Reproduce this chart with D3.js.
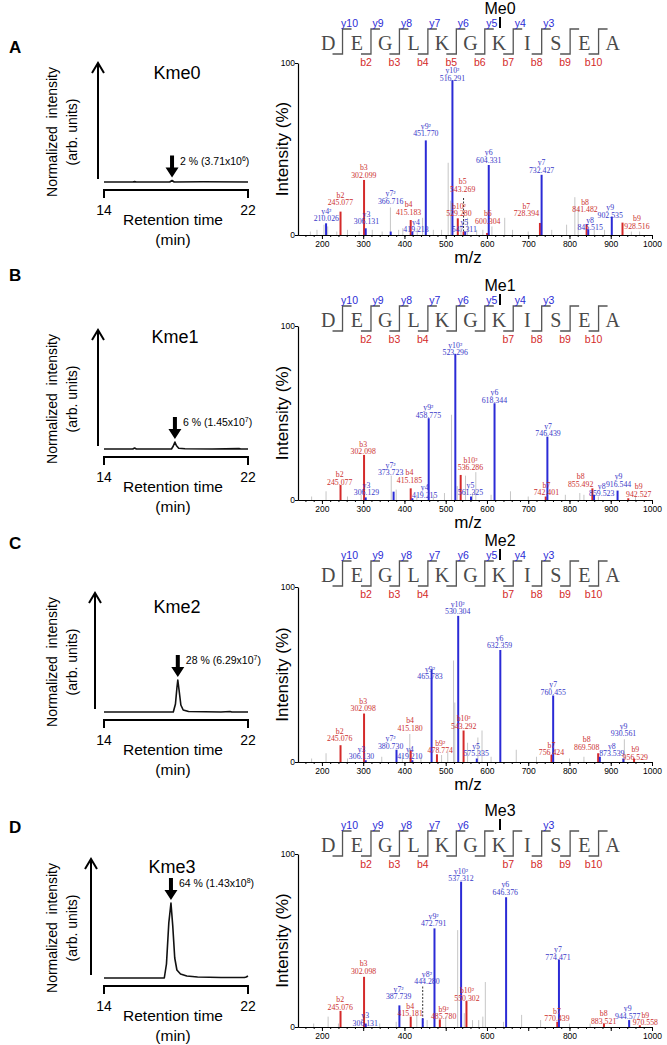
<!DOCTYPE html>
<html>
<head>
<meta charset="utf-8">
<script src="https://cdnjs.cloudflare.com/ajax/libs/d3/7.8.5/d3.min.js"></script>
<style>
  body { margin: 0; background: #fff; }
  svg { display: block; }
</style>
</head>
<body>
<div id="chart"></div>
<script>
// ---- data ----
var residues = ["D", "E", "G", "L", "K", "G", "K", "I", "S", "E", "A"];
var panelNames = ["A", "B", "C", "D"];
var kmeNames = ["Kme0", "Kme1", "Kme2", "Kme3"];
var meNames = ["Me0", "Me1", "Me2", "Me3"];
var pctNames = ["2 %", "6 %", "28 %", "64 %"];
var areaMant = ["3.71", "1.45", "6.29", "1.43"];
var areaExp = ["6", "7", "7", "8"];
var yIonsShown = [[10, 9, 8, 7, 6, 5, 4, 3], [10, 9, 8, 7, 6, 5, 4, 3], [10, 9, 8, 7, 6, 5, 4, 3], [10, 9, 8, 7, 6, 3]];
var bIonsShown = [[2, 3, 4, 5, 6, 7, 8, 9, 10], [2, 3, 4, 7, 8, 9, 10], [2, 3, 4, 7, 8, 9, 10], [2, 3, 4, 7, 8, 9, 10]];
var mzTicks = [200, 300, 400, 500, 600, 700, 800, 900, 1000];
var mzTicksD = [200, 400, 600, 800, 1000];
var rtTicks = [14, 22];

// retention time (min), normalized intensity
var chromA = [[14, 0], [15.6, 0], [15.7, 0.4], [15.8, 0], [17.65, 0], [17.78, 1.5], [17.9, 0], [19.5, 0.2], [22, 0]];
var chromB = [[14, 0], [15.6, 0], [15.7, 1], [15.8, 0], [17.75, 0], [17.85, 3], [17.94, 7], [18.02, 3.5], [18.15, 0.8], [18.5, 0.3], [20, 0], [21.5, 0.4], [21.6, 0], [22, 0]];
var chromC = [[14, 0], [17.85, 0], [17.97, 8], [18.05, 24], [18.1, 32], [18.17, 22], [18.27, 7], [18.4, 2], [18.7, 0.5], [20.5, 0], [21, 0.5], [21.1, 0], [22, 0]];
var chromD = [[14, 0], [17.35, 0], [17.47, 14], [17.6, 55], [17.72, 75], [17.82, 52], [17.93, 20], [18.05, 8], [18.25, 4], [18.6, 2], [19.2, 1], [20.5, 0.5], [21.8, 0.5], [21.9, 1], [22, 2]];

// ion, m/z, intensity (%)
var peaksA = [["y4²", 210.026, 6.8], ["b2", 245.077, 13.6], ["b3", 302.099, 32], ["y3", 306.131, 3.9], ["y7²", 366.716, 2], ["b4", 415.183, 8.7], ["y4", 419.213, 2], ["y9²", 451.770, 55], ["y10²", 516.291, 90], ["b10²", 529.280, 9.7], ["b5", 543.269, 2], ["y5", 547.311, 2], ["b6", 600.304, 1.2], ["y6", 604.331, 40.7], ["b7", 728.394, 7], ["y7", 732.427, 35], ["b8", 841.482, 6.4], ["y8", 845.515, 3.3], ["y9", 902.535, 10.7], ["b9", 928.516, 7.2]];
var peaksB = [["b2", 245.077, 8.6], ["b3", 302.098, 25.9], ["y3", 306.129, 1.5], ["y7²", 373.723, 4.8], ["b4", 415.185, 6.7], ["y4", 419.215, 1], ["y9²", 458.775, 47], ["y10²", 523.296, 84], ["b10²", 536.286, 14.4], ["y5", 561.325, 2], ["y6", 618.344, 55.6], ["b7", 742.401, 2], ["y7", 746.439, 36.4], ["b8", 855.492, 6.7], ["y8", 859.523, 3], ["y9", 916.544, 5.4], ["b9", 942.527, 1]];
var peaksC = [["b2", 245.076, 9.6], ["b3", 302.098, 27.7], ["y3", 306.130, 1], ["y7²", 380.730, 7], ["b4", 415.180, 6.7], ["y4", 419.210, 1], ["y9²", 465.783, 53], ["b9²", 478.774, 4.4], ["y10²", 530.304, 83.5], ["b10²", 543.292, 18], ["y5", 575.335, 2], ["y6", 632.359, 64], ["b7", 756.424, 4], ["y7", 760.455, 38], ["b8", 869.508, 5], ["y8", 873.539, 3], ["y9", 930.561, 2], ["b9", 956.529, 2]];
var peaksD = [["b2", 245.076, 9.3], ["b3", 302.098, 29], ["y3", 306.131, 2], ["y7²", 387.739, 12.5], ["b4", 415.181, 6], ["y8²", 444.28, 5], ["y9²", 472.791, 57], ["b9²", 485.780, 4.4], ["y10²", 537.312, 84], ["b10²", 550.302, 15], ["y6", 646.376, 75], ["b7", 770.439, 3], ["y7", 774.471, 39], ["b8", 883.521, 2], ["y9", 944.577, 4], ["b9", 970.558, 1]];

// unassigned peaks: m/z, intensity (%)
var noiseA = [[172, 2], [188, 3], [205, 6], [214, 5], [236, 2], [262, 3], [290, 2], [322, 3], [346, 2], [366, 16], [386, 3], [396, 4], [431, 4], [444, 10], [470, 3], [490, 3], [506, 42], [512, 20], [537, 6], [553, 10], [575, 3], [590, 3], [612, 5], [643, 10], [662, 3], [700, 2], [757, 3], [793, 6], [813, 22], [821, 16], [860, 3], [885, 3], [950, 2], [970, 2]];
var noiseB = [[175, 2], [210, 5], [262, 2], [295, 3], [368, 14], [380, 6], [430, 3], [470, 3], [497, 4], [514, 49], [528, 8], [548, 14], [565, 4], [573, 16], [610, 3], [657, 5], [700, 2], [790, 3], [825, 4], [835, 3], [870, 2], [960, 2]];
var noiseC = [[175, 2], [210, 5], [262, 2], [345, 3], [395, 4], [413, 16], [440, 3], [490, 4], [505, 6], [519, 58], [522, 34], [553, 11], [578, 14], [588, 18], [610, 3], [671, 7], [720, 3], [800, 2], [835, 3], [933, 13]];
var noiseD = [[180, 2], [215, 6], [240, 2], [340, 2], [380, 3], [430, 7], [455, 4], [500, 6], [529, 56], [545, 8], [565, 4], [580, 4], [590, 6], [596, 26], [640, 3], [684, 7], [730, 4], [800, 2], [850, 2]];

// dashed marker peaks: m/z, intensity (%)
var dashA = [[543.269, 22]];
var dashB = [];
var dashC = [];
var dashD = [[444.28, 24]];

// where each peak label sits: m/z, level (%) of the value line
var labA = {"y4²": [210.6, 9.7], "b2": [244.7, 19], "b3": [301.5, 34.9], "y3": [308, 8], "y7²": [366.5, 19.8], "b4": [410, 13.5], "y4": [428, 3.3], "y9²": [451.8, 59], "y10²": [516.3, 91.3], "b10²": [532, 12.6], "b5": [541, 26.7], "y5": [545, 3.3], "b6": [602, 8.3], "y6": [604.3, 43.6], "b7": [695.5, 12.6], "y7": [732.4, 37.8], "b8": [837.7, 15], "y8": [850, 4.3], "y9": [898.6, 11.6], "b9": [963.6, 5.2]};
var labB = {"b2": [243, 10.5], "b3": [300, 27.8], "y3": [308, 4.4], "y7²": [366.5, 15.9], "b4": [412, 11.5], "y4": [449, 2.9], "y9²": [458, 48.9], "y10²": [523, 84.7], "b10²": [560, 18.6], "y5": [560, 4.2], "y6": [618, 57.5], "b7": [744, 4.2], "y7": [748, 38.3], "b8": [827, 9.2], "y8": [878, 3.8], "y9": [919, 9.2], "b9": [967.7, 3.4]};
var labC = {"b2": [243, 13.4], "b3": [300, 30.6], "y3": [296, 3.3], "y7²": [366.5, 9.2], "b4": [413.6, 19.5], "y4": [413, 3.3], "b9²": [486.8, 6.7], "y9²": [462, 49], "y10²": [529, 86], "b10²": [543.6, 20.5], "y5": [573.7, 4.8], "y6": [630.5, 66.5], "b7": [756.4, 5.4], "y7": [760.5, 40], "b8": [841.8, 8.6], "y8": [902.7, 4.8], "y9": [931, 16.3], "b9": [959.5, 2.9]};
var labD = {"b2": [244.4, 11.6], "b3": [301, 32.4], "y3": [305, 2.3], "y7²": [385.9, 17.8], "b4": [414, 7.7], "y8²": [454.5, 26.4], "y9²": [470.7, 59.8], "b9²": [495, 6.2], "y10²": [537, 85.9], "b10²": [551.5, 16.8], "y6": [644.4, 78.2], "b7": [769.7, 4.8], "y7": [772, 40.5], "b8": [882.8, 3.5], "y9": [941, 6.4], "b9": [983.8, 2.5]};

var chroms = [chromA, chromB, chromC, chromD];
var peaks = [peaksA, peaksB, peaksC, peaksD];
var noise = [noiseA, noiseB, noiseC, noiseD];
var dashed = [dashA, dashB, dashC, dashD];
var labels = [labA, labB, labC, labD];

// ---- layout ----
var sans = "'Liberation Sans', Arial, sans-serif",
    serif = "'Liberation Serif', 'Times New Roman', serif";
var blue = "#2b2bd6", red = "#d42a2a", labBlue = "#3838c8", labRed = "#cc3030";

var specBase = [235, 500, 762, 1027],
    specTop = [63, 326, 587, 854],
    seqY = [43, 320, 575, 845],
    chromBase = [182, 449, 712, 978],
    letterY = [47, 275, 543, 827],
    upArrowX = [98, 98, 95, 91],
    kmeX = [177, 175, 177, 172],
    kmeY = [73, 337, 607, 867];

var svg = d3.select("#chart").append("svg")
  .attr("width", 667)
  .attr("height", 1045);

var x = d3.scaleLinear().domain([142, 1000]).range([298, 652]);
var rt = d3.scaleLinear().domain([14, 22]).range([104, 248]);
var seqX = d3.scalePoint().domain(d3.range(residues.length)).range([328.3, 612.8]);

function drawPanel(p) {
  var g = svg.append("g");

  // panel letter
  g.append("text")
    .attr("x", 9).attr("y", letterY[p] + 6)
    .attr("font-family", sans).attr("font-size", 17).attr("font-weight", "bold")
    .text(panelNames[p]);

  // ---------- chromatogram ----------
  var base = chromBase[p];
  var cy = d3.scaleLinear().domain([0, 100]).range([base, base - 100]);

  g.append("path")
    .datum(chroms[p])
    .attr("fill", "none").attr("stroke", "#111").attr("stroke-width", 1.6)
    .attr("stroke-linejoin", "round")
    .attr("d", d3.line().x(function(d) { return rt(d[0]); }).y(function(d) { return cy(d[1]); }));

  // vertical arrow
  var ax = upArrowX[p], aTop = base - 119;
  g.append("line")
    .attr("x1", ax).attr("x2", ax).attr("y1", base - 3).attr("y2", aTop + 1)
    .attr("stroke", "#000").attr("stroke-width", 2);
  g.append("path")
    .attr("d", "M" + (ax - 6) + "," + (aTop + 10) + "L" + ax + "," + aTop + "L" + (ax + 6) + "," + (aTop + 10))
    .attr("fill", "none").attr("stroke", "#000").attr("stroke-width", 2);

  // bracket axis
  g.append("path")
    .attr("d", "M" + rt(14) + "," + (base + 16) + "V" + (base + 8) + "H" + rt(22) + "V" + (base + 16))
    .attr("fill", "none").attr("stroke", "#000").attr("stroke-width", 2);
  g.selectAll(".rtl").data(rtTicks).join("text")
    .attr("x", function(d) { return rt(d); })
    .attr("y", base + 33)
    .attr("text-anchor", "middle")
    .attr("font-family", sans).attr("font-size", 14)
    .text(function(d) { return d; });
  g.append("text")
    .attr("x", 173).attr("y", base + 43)
    .attr("text-anchor", "middle").attr("font-family", sans).attr("font-size", 15.5)
    .text("Retention time");
  g.append("text")
    .attr("x", 173).attr("y", base + 63)
    .attr("text-anchor", "middle").attr("font-family", sans).attr("font-size", 15.5)
    .text("(min)");

  // y label
  var ly = base - 50;
  g.append("text")
    .attr("transform", "translate(57," + ly + ") rotate(-90)")
    .attr("text-anchor", "middle").attr("font-family", sans).attr("font-size", 14)
    .attr("xml:space", "preserve")
    .text("Normalized  intensity");
  g.append("text")
    .attr("transform", "translate(77," + ly + ") rotate(-90)")
    .attr("text-anchor", "middle").attr("font-family", sans).attr("font-size", 14)
    .text("(arb. units)");

  g.append("text")
    .attr("x", kmeX[p]).attr("y", kmeY[p] + 6)
    .attr("text-anchor", "middle").attr("font-family", sans).attr("font-size", 18)
    .text(kmeNames[p]);

  // peak arrow + annotation
  var top = d3.greatest(chroms[p], function(d) { return d[1]; });
  var px = rt(top[0]), tip = cy(top[1]) - 3, at = tip - 22;
  g.append("path")
    .attr("d", "M" + (px - 2) + "," + at + "H" + (px + 2) + "V" + (tip - 10) + "H" + (px + 6.5) +
      "L" + px + "," + tip + "L" + (px - 6.5) + "," + (tip - 10) + "H" + (px - 2) + "Z")
    .attr("fill", "#000");
  var ann = g.append("text")
    .attr("x", px + 8).attr("y", at + 9)
    .attr("font-family", sans).attr("font-size", 10.5);
  ann.append("tspan").text(pctNames[p] + " (" + areaMant[p] + "x10");
  ann.append("tspan").attr("font-size", 7).attr("dy", -4).text(areaExp[p]);
  ann.append("tspan").attr("dy", 4).text(")");

  // ---------- MS/MS spectrum ----------
  var sb = specBase[p];
  var y = d3.scaleLinear().domain([0, 100]).range([sb, specTop[p]]);

  g.selectAll(".noise").data(noise[p]).join("line")
    .attr("x1", function(d) { return x(d[0]); })
    .attr("x2", function(d) { return x(d[0]); })
    .attr("y1", y(0))
    .attr("y2", function(d) { return y(d[1]); })
    .attr("stroke", "#c6c6c6").attr("stroke-width", 1);

  g.selectAll(".dash").data(dashed[p]).join("line")
    .attr("x1", function(d) { return x(d[0]); })
    .attr("x2", function(d) { return x(d[0]); })
    .attr("y1", y(0))
    .attr("y2", function(d) { return y(d[1]); })
    .attr("stroke", "#333").attr("stroke-width", 1).attr("stroke-dasharray", "2,1.5");

  g.selectAll(".ion").data(peaks[p]).join("line")
    .attr("x1", function(d) { return x(d[1]); })
    .attr("x2", function(d) { return x(d[1]); })
    .attr("y1", y(0))
    .attr("y2", function(d) { return y(d[2]); })
    .attr("stroke", function(d) { return d[0][0] === "y" ? blue : red; })
    .attr("stroke-width", 2);

  var lab = labels[p];
  var lg = g.selectAll(".plab").data(peaks[p]).join("g")
    .attr("font-family", serif).attr("font-size", 7.8).attr("text-anchor", "middle")
    .attr("fill", function(d) { return d[0][0] === "y" ? labBlue : labRed; })
    .attr("transform", function(d) {
      var l = lab[d[0]];
      return "translate(" + x(l[0]) + "," + (y(l[1]) + 2.8) + ")";
    });
  lg.append("text").attr("y", -7.5).text(function(d) { return d[0]; });
  lg.append("text").text(function(d) { return d[1].toFixed(3); });

  // axes
  var xMinor = d3.axisBottom(x).tickValues(d3.range(160, 1001, 20)).tickSize(2).tickSizeOuter(0).tickFormat("");
  g.append("g").attr("transform", "translate(0," + sb + ")").call(xMinor);
  var xAxis = d3.axisBottom(x).tickValues(mzTicks).tickSize(4).tickSizeOuter(0)
    .tickFormat(function(d) { return (p === 3 && mzTicksD.indexOf(d) < 0) ? "" : d; });
  var xg = g.append("g").attr("transform", "translate(0," + sb + ")").call(xAxis);
  xg.selectAll("text").attr("font-family", sans).attr("font-size", 8.5).attr("dy", "0.55em");
  var yAxis = d3.axisLeft(y).tickValues([0, 100]).tickSize(3).tickSizeOuter(0);
  var yg = g.append("g").attr("transform", "translate(298,0)").call(yAxis);
  yg.selectAll("text").attr("font-family", sans).attr("font-size", 8.5).attr("x", -3);
  g.selectAll(".domain").attr("stroke-width", 1.2);

  g.append("text")
    .attr("transform", "translate(288," + ((sb + specTop[p]) / 2) + ") rotate(-90)")
    .attr("text-anchor", "middle").attr("font-family", sans).attr("font-size", 17)
    .text("Intensity (%)");
  // the last panel's m/z title falls below the figure edge in the reference
  if (sb + 28 < 1045) {
    g.append("text")
      .attr("x", 468).attr("y", sb + 28)
      .attr("text-anchor", "middle").attr("font-family", sans).attr("font-size", 17)
      .text("m/z");
  }

  // ---------- sequence header ----------
  var sy = seqY[p];
  g.selectAll(".res").data(residues).join("text")
    .attr("x", function(d, i) { return seqX(i); })
    .attr("y", sy + 7)
    .attr("text-anchor", "middle").attr("font-family", serif).attr("font-size", 20)
    .attr("fill", "#4a4a4a")
    .text(function(d) { return d; });

  var seps = d3.range(1, residues.length);
  function sepX(i) { return (seqX(i - 1) + seqX(i)) / 2; }
  g.selectAll(".hook").data(seps).join("path")
    .attr("d", function(i) {
      var s = sepX(i);
      return "M" + (s - 10) + "," + (sy + 11) + "H" + s + "V" + (sy - 14) + "H" + (s + 9);
    })
    .attr("fill", "none").attr("stroke", "#555").attr("stroke-width", 1.3);

  g.selectAll(".yion").data(yIonsShown[p]).join("text")
    .attr("x", function(k) { return sepX(residues.length - k) + 7; })
    .attr("y", sy - 16.5)
    .attr("text-anchor", "middle").attr("font-family", sans).attr("font-size", 10.5)
    .attr("fill", blue)
    .text(function(k) { return "y" + k; });
  g.selectAll(".bion").data(bIonsShown[p]).join("text")
    .attr("x", function(n) { return sepX(n) - 5; })
    .attr("y", sy + 22.5)
    .attr("text-anchor", "middle").attr("font-family", sans).attr("font-size", 10.5)
    .attr("fill", red)
    .text(function(n) { return "b" + n; });

  var kx = seqX(6) + 1;
  g.append("line")
    .attr("x1", kx).attr("x2", kx).attr("y1", sy - 26).attr("y2", sy - 15)
    .attr("stroke", "#000").attr("stroke-width", 2);
  g.append("text")
    .attr("x", kx).attr("y", sy - 29)
    .attr("text-anchor", "middle").attr("font-family", sans).attr("font-size", 16)
    .text(meNames[p]);
}

for (var p = 0; p < 4; p++) drawPanel(p);
</script>
</body>
</html>
